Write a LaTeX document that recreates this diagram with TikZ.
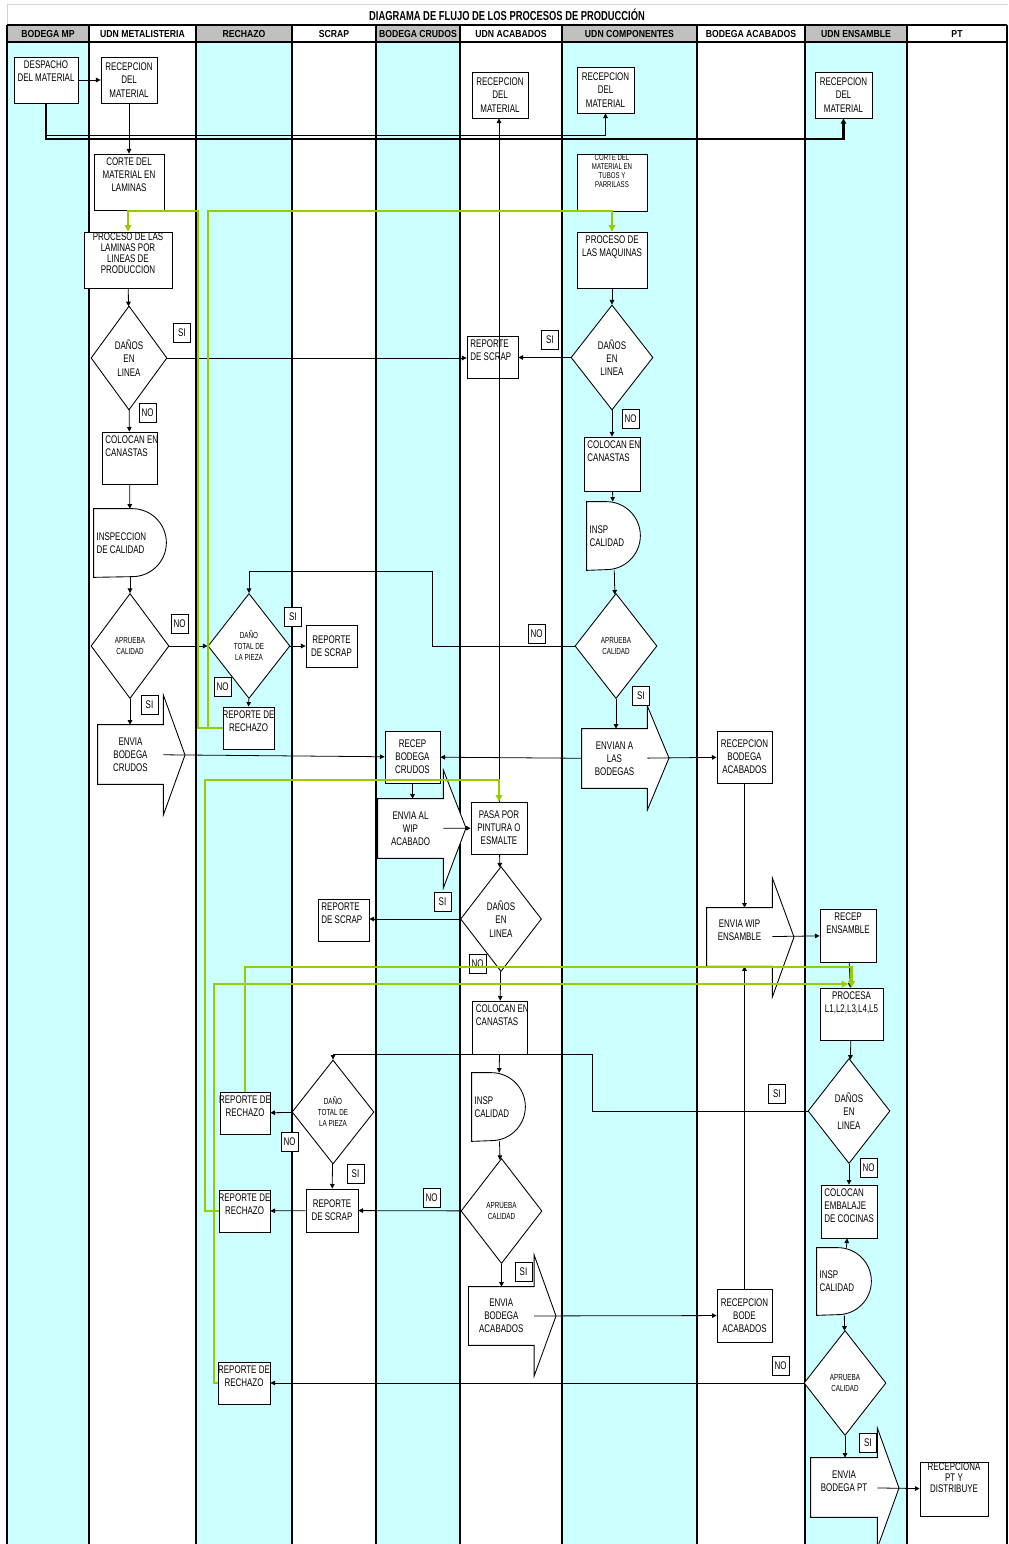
\documentclass[tikz,border=0pt]{standalone}
\usepackage{fontspec}
\setmainfont{Liberation Sans}[FakeStretch=0.72]
\newfontfamily\cabfont{Liberation Sans}[FakeStretch=0.85]
\usepackage{tikz}
\usetikzlibrary{arrows.meta, positioning, shapes.geometric}

\definecolor{celeste}{HTML}{CCFFFF}
\definecolor{grisCab}{HTML}{C0C0C0}
\definecolor{verdeLima}{HTML}{99CC00}

\newcommand{\fnorm}{\fontsize{6.3}{7.5}\selectfont}
\newcommand{\fchico}{\fontsize{5}{6.3}\selectfont}
\newcommand{\fmini}{\fontsize{4.8}{5}\selectfont}
\newcommand{\fapretado}{\fontsize{6.3}{6.3}\selectfont}

\pgfdeclarelayer{carriles}
\pgfdeclarelayer{formas}
\pgfsetlayers{carriles,formas,main}

\begin{document}
\begin{tikzpicture}[x=0.02cm, y=-0.02cm,
    caja/.style={draw, fill=white, line width=0.5pt, inner sep=1pt, align=center, font=\fnorm},
    wh/.style 2 args={minimum width=#1*0.02cm, minimum height=#2*0.02cm},
    rombo/.style={diamond, draw, fill=white, line width=0.5pt, inner sep=0pt, align=center, font=\fnorm},
    etq/.style={draw, fill=white, line width=0.4pt, inner sep=0pt, minimum width=0.34cm, minimum height=0.38cm, font=\fnorm},
    texto/.style={inner sep=0pt, align=center, font=\fnorm},
    tope/.style={label={[font=\fnorm, align=center, anchor=north, inner sep=2pt]north:{#1}}},
    topeizq/.style={label={[font=\fnorm, align=left, anchor=north west, inner sep=2pt]north west:{#1}}},
    topeap/.style 2 args={label={[font=#1, align=center, anchor=north, inner sep=0.6pt]north:{#2}}},
    ladoizq/.style={label={[font=\fnorm, align=left, anchor=west, inner sep=1.5pt]west:{#1}}},
    forma/.style={draw, fill=white, line width=0.5pt},
    cab/.style={font=\cabfont\bfseries\fontsize{5.8}{6}\selectfont, inner sep=0pt},
    flecha/.style={line width=0.45pt, -{Triangle[length=2.6pt,width=2.6pt]}},
    gruesa/.style={line width=1.5pt, -{Triangle[length=3pt,width=3pt]}},
    verde/.style={draw=verdeLima, line width=1.2pt, -{Triangle[length=3.6pt,width=3.6pt]}}]
  \useasboundingbox (0,0) rectangle (1008,1544);

  % carriles y cabecera
  \begin{pgfonlayer}{carriles}
    \foreach \xa/\xb/\col in {7/89/celeste, 89/196/white, 196/292/celeste, 292/376/white, 376/460/celeste,
        460/562/white, 562/697/celeste, 697/805/white, 805/907/celeste, 907/1007/white}
      \fill[\col] (\xa,42) rectangle (\xb,1544);
    \foreach \xa/\xb in {7/89, 196/292, 376/460, 562/697, 805/907}
      \fill[grisCab] (\xa,25) rectangle (\xb,42);
    \draw[gray!35, line width=0.4pt] (7,25) |- (1008,4);
    \foreach \x in {7,89,196,292,376,460,562,697,805,907,1007}
      \draw[line width=1.2pt] (\x,25) -- (\x,1544);
    \draw[line width=1.2pt] (7,25) -- (1007,25);
    \draw[line width=1.2pt] (7,42) -- (1007,42);
  \end{pgfonlayer}

  \node[font=\bfseries\fontsize{7.4}{8}\selectfont, inner sep=0pt] (titulo) at (507,15)
    {DIAGRAMA DE FLUJO DE LOS PROCESOS DE PRODUCCIÓN};
  \foreach \xa/\xb/\nom [count=\i] in {7/89/BODEGA MP, 89/196/UDN METALISTERIA, 196/292/RECHAZO,
      292/376/SCRAP, 376/460/BODEGA CRUDOS, 460/562/UDN ACABADOS, 562/697/UDN COMPONENTES,
      697/805/BODEGA ACABADOS, 805/907/UDN ENSAMBLE, 907/1007/PT}
    \node[cab] (cab\i) at ({(\xa+\xb)/2},33.5) {\nom};

  % BODEGA MP
  \node[caja, wh={64}{46}, tope={DESPACHO\\DEL MATERIAL}] (despacho) at (46,80) {};

  % UDN METALISTERIA
  \node[caja, wh={56}{46}] (recep1) at (129,80) {RECEPCION\\DEL\\MATERIAL};
  \node[caja, wh={70}{56}, tope={CORTE DEL\\MATERIAL EN\\LAMINAS}] (corte1) at (129,182) {};
  \node[caja, wh={88}{56}, topeap={\fapretado}{PROCESO DE LAS\\LAMINAS POR\\LINEAS DE\\PRODUCCION}] (proc1) at (128,260) {};
  \node[rombo, wh={76}{104}] (dan1) at (129,358) {DAÑOS\\EN\\LINEA};
  \node[etq] (si1) at (182,333) {SI};
  \node[etq] (no1) at (147.5,413) {NO};
  \node[caja, wh={55}{52}, topeizq={COLOCAN EN\\CANASTAS}] (colocan1) at (129.5,458) {};
  \node[wh={72}{68}, ladoizq={INSPECCION\\DE CALIDAD}] (insp1) at (130,543) {};
  \node[rombo, wh={78}{105}, font=\fchico] (apr1) at (130,646) {APRUEBA\\CALIDAD};
  \node[etq] (no2) at (179.5,623.5) {NO};
  \node[etq] (si2) at (149.5,705) {SI};
  \node[texto, wh={65}{59}] (envia1) at (130.5,754.5) {ENVIA\\BODEGA\\CRUDOS};

  % RECHAZO
  \node[rombo, wh={82}{105}, font=\fchico] (dt1) at (249,646) {DAÑO\\TOTAL DE\\LA PIEZA};
  \node[etq] (no3) at (222.5,687) {NO};
  \node[etq] (si3) at (293,617) {SI};
  \node[caja, wh={51}{42}, tope={REPORTE DE\\RECHAZO}] (rech1) at (248.5,728) {};
  \node[caja, wh={50}{42}, tope={REPORTE DE\\RECHAZO}] (rech2) at (245,1113) {};
  \node[caja, wh={51}{42}, tope={REPORTE DE\\RECHAZO}] (rech3) at (244.5,1211) {};
  \node[caja, wh={52}{42}, tope={REPORTE DE\\RECHAZO}] (rech4) at (244,1383) {};

  % SCRAP
  \node[caja, wh={51}{42}] (scrap1) at (331.5,646) {REPORTE\\DE SCRAP};
  \node[caja, wh={51}{42}, topeizq={REPORTE\\DE SCRAP}] (scrap2) at (343.5,920) {};
  \node[rombo, wh={82}{104}, font=\fchico] (dt2) at (333,1112) {DAÑO\\TOTAL DE\\LA PIEZA};
  \node[etq] (no4) at (289.5,1142) {NO};
  \node[etq] (si4) at (355.5,1174) {SI};
  \node[caja, wh={52}{43}] (scrap3) at (332,1210.5) {REPORTE\\DE SCRAP};

  % BODEGA CRUDOS
  \node[caja, wh={55}{52}] (recepcr) at (412.5,757) {RECEP\\BODEGA\\CRUDOS};
  \node[texto, wh={65}{59}] (envia2) at (410.5,828.5) {ENVIA AL\\WIP\\ACABADO};
  \node[etq] (si5) at (442.5,902) {SI};
  \node[etq] (no5) at (431.5,1198) {NO};

  % UDN ACABADOS
  \node[caja, wh={56}{46}] (recep2) at (500,95) {RECEPCION\\DEL\\MATERIAL};
  \node[caja, wh={51}{42}, topeizq={REPORTE\\DE SCRAP}] (scrapA) at (492.5,357) {};
  \node[etq] (si6) at (550,340) {SI};
  \node[caja, wh={56}{52}] (pasa) at (499,828) {PASA POR\\PINTURA O\\ESMALTE};
  \node[rombo, wh={81}{105}] (dan3) at (501,919) {DAÑOS\\EN\\LINEA};
  \node[etq] (no6) at (477.5,964) {NO};
  \node[caja, wh={55}{53}, topeizq={COLOCAN EN\\CANASTAS}] (colocan3) at (500,1027.5) {};
  \node[wh={53}{68}, ladoizq={INSP\\CALIDAD}] (insp3) at (498.5,1107) {};
  \node[rombo, wh={81}{105}, font=\fchico] (apr3) at (501.5,1211) {APRUEBA\\CALIDAD};
  \node[etq] (si7) at (523.5,1272) {SI};
  \node[texto, wh={65}{58}] (envia3) at (501.3,1316) {ENVIA\\BODEGA\\ACABADOS};

  % UDN COMPONENTES
  \node[caja, wh={57}{46}] (recep3) at (605.5,90) {RECEPCION\\DEL\\MATERIAL};
  \node[caja, wh={70}{57}, topeap={\fmini}{CORTE DEL\\MATERIAL EN\\TUBOS Y\\PARRILASS}] (corte2) at (612,182.5) {};
  \node[caja, wh={70}{56}, tope={PROCESO DE\\LAS MAQUINAS}] (proc2) at (612,260) {};
  \node[rombo, wh={82}{105}] (dan2) at (612,357.5) {DAÑOS\\EN\\LINEA};
  \node[etq] (no7) at (630.5,419) {NO};
  \node[caja, wh={56}{54}, topeizq={COLOCAN EN\\CANASTAS}] (colocan2) at (612,464) {};
  \node[wh={53}{68}, ladoizq={INSP\\CALIDAD}] (insp2) at (613.5,536) {};
  \node[rombo, wh={82}{105}, font=\fchico] (apr2) at (616,646) {APRUEBA\\CALIDAD};
  \node[etq] (no8) at (536.5,633.5) {NO};
  \node[etq] (si8) at (641,695.5) {SI};
  \node[texto, wh={65}{59}] (envian) at (614.5,758.5) {ENVIAN A\\LAS\\BODEGAS};

  % BODEGA ACABADOS
  \node[caja, wh={55}{52}] (recepba) at (744.5,757) {RECEPCION\\BODEGA\\ACABADOS};
  \node[texto, wh={65}{58}] (enviawip) at (739.5,937) {ENVIA WIP\\ENSAMBLE\\\mbox{}};
  \node[etq] (si9) at (777,1094) {SI};
  \node[caja, wh={55}{53}] (recepbode) at (744.5,1315.5) {RECEPCION\\BODE\\ACABADOS};
  \node[etq] (no9) at (780.5,1365.5) {NO};

  % UDN ENSAMBLE
  \node[caja, wh={57}{46}] (recep4) at (843.5,95) {RECEPCION\\DEL\\MATERIAL};
  \node[caja, wh={56}{53}, tope={RECEP\\ENSAMBLE}] (recepens) at (848,935.5) {};
  \node[caja, wh={63}{52}, tope={PROCESA\\L1,L2,L3,L4,L5}] (procesa) at (851.5,1014) {};
  \node[rombo, wh={82}{105}] (dan4) at (849,1111) {DAÑOS\\EN\\LINEA};
  \node[etq] (no10) at (868.5,1168) {NO};
  \node[caja, wh={56}{53}, topeizq={COLOCAN\\EMBALAJE\\DE COCINAS}] (colocan4) at (849,1211.5) {};
  \node[wh={54}{67}, ladoizq={INSP\\CALIDAD}] (insp4) at (844,1281.5) {};
  \node[rombo, wh={82}{105}, font=\fchico] (apr4) at (845,1383) {APRUEBA\\CALIDAD};
  \node[etq] (si10) at (868,1443) {SI};
  \node[texto, wh={66}{59}] (enviapt) at (844,1487.5) {ENVIA\\BODEGA PT\\\mbox{}};

  % PT
  \node[caja, wh={68}{54}, topeap={\fapretado}{RECEPCIONA\\PT Y\\DISTRIBUYE}] (recepna) at (954,1489) {};

  % formas de envio e inspeccion
  \begin{pgfonlayer}{formas}
    \draw[forma] (envia1.north west) -- (envia1.north east) -- (envia1.north east |- 0,695) -- (185,755)
      -- (envia1.south east |- 0,815) -- (envia1.south east) -- (envia1.south west) -- cycle;
    \draw[forma] (envia2.north west) -- (envia2.north east) -- (envia2.north east |- 0,770) -- (466,828)
      -- (envia2.south east |- 0,888) -- (envia2.south east) -- (envia2.south west) -- cycle;
    \draw[forma] (envian.north west) -- (envian.north east) -- (envian.north east |- 0,706) -- (669,758)
      -- (envian.south east |- 0,810) -- (envian.south east) -- (envian.south west) -- cycle;
    \draw[forma] (envia3.north west) -- (envia3.north east) -- (envia3.north east |- 0,1255) -- (556,1316)
      -- (envia3.south east |- 0,1376) -- (envia3.south east) -- (envia3.south west) -- cycle;
    \draw[forma] (enviawip.north west) -- (enviawip.north east) -- (enviawip.north east |- 0,878) -- (794,937)
      -- (enviawip.south east |- 0,997) -- (enviawip.south east) -- (enviawip.south west) -- cycle;
    \draw[forma] (enviapt.north west) -- (enviapt.north east) -- (enviapt.north east |- 0,1428) -- (899,1488)
      -- (enviapt.south east |- 0,1548) -- (enviapt.south east) -- (enviapt.south west) -- cycle;
    \foreach \n/\r in {insp1/0.68cm, insp2/0.68cm, insp3/0.68cm, insp4/0.67cm}
      \draw[forma] (\n.north west) -- ([xshift=-\r]\n.north east) arc[start angle=90, end angle=-90, radius=\r]
        -- (\n.south west) -- cycle;
  \end{pgfonlayer}

  % conectores
  \draw[gruesa] (despacho.south) -- (despacho.south |- 0,139) -| (recep4.south);
  \draw[flecha] (despacho.south |- 0,135) -| (recep3.south);
  \draw[flecha] (despacho) -- (recep1);
  \draw[flecha] (recep1) -- (corte1);
  \draw[flecha] (proc1) -- (dan1);
  \draw[flecha] (dan1.east) -- (dan1.east -| scrapA.west);
  \draw[flecha] (dan1) -- (colocan1);
  \draw[flecha] (colocan1) -- (insp1);
  \draw[flecha] (insp1) -- (apr1);
  \draw[flecha] (apr1) -- (dt1);
  \draw[flecha] (apr1.south) -- (apr1.south |- envia1.north);
  \draw[flecha] (envia1) -- (recepcr);
  \draw[flecha] (dt1) -- (scrap1);
  \draw[flecha] (dt1) -- (rech1);
  \draw[flecha] (apr2.west) -| (432,571) -| (dt1.north);
  \draw[flecha] (dan2.west) -- (dan2.west -| scrapA.east);
  \draw[flecha] (proc2) -- (dan2);
  \draw[flecha] (dan2) -- (colocan2);
  \draw[flecha] (colocan2) -- (insp2);
  \draw[flecha] (insp2) -- (apr2);
  \draw[flecha] (apr2.south) -- (apr2.south |- envian.north);
  \draw[flecha] (envian) -- (recepcr);
  \draw[flecha] (envian) -- (recepba);
  \draw[flecha] (pasa.north) -- (pasa.north |- recep2.south);
  \draw[flecha] (recepcr.south) -- (recepcr.south |- envia2.north);
  \draw[flecha] (envia2) -- (pasa);
  \draw[flecha] (pasa) -- (dan3);
  \draw[flecha] (dan3.west) -- (dan3.west -| scrap2.east);
  \draw[flecha] (dan3) -- (colocan3);
  \draw[flecha] (colocan3) -- (insp3);
  \draw[flecha] (insp3) -- (apr3);
  \draw[flecha] (apr3) -- (scrap3);
  \draw[flecha] (scrap3) -- (rech3);
  \draw[flecha] (dt2) -- (rech2);
  \draw[flecha] (dt2) -- (scrap3);
  \draw[flecha] (dan4.west) -| (592,1054) -| (dt2.north);
  \draw[flecha] (apr3.south) -- (apr3.south |- envia3.north);
  \draw[flecha] (envia3) -- (recepbode);
  \draw[flecha] (recepba.south) -- (recepba.south |- enviawip.north);
  \draw[flecha] (recepbode.north) -- (recepbode.north |- enviawip.south);
  \draw[flecha] (enviawip) -- (recepens);
  \draw[flecha] (recepens) -- (procesa);
  \draw[flecha] (procesa) -- (dan4);
  \draw[flecha] (dan4) -- (colocan4);
  \draw[flecha] (insp4) -- (colocan4);
  \draw[flecha] (insp4) -- (apr4);
  \draw[flecha] (apr4) -- (rech4);
  \draw[flecha] (apr4.south) -- (apr4.south |- enviapt.north);
  \draw[flecha] (enviapt) -- (recepna);

  % retornos de rechazo
  \coordinate (finverde) at (848,984);
  \draw[verde] (rech1.west) -| (198,211) -| (proc1.north);
  \draw[verde] (rech1.west) -| (208,211) -| (proc2.north);
  \draw[verde] (rech3.west) -| (205,780) -| (pasa.north);
  \draw[verde] (rech2.north) |- (procesa.north |- 0,967) -- (procesa.north);
  \draw[verde] (rech4.west) -| (214,984) -- (finverde);
\end{tikzpicture}
\end{document}
